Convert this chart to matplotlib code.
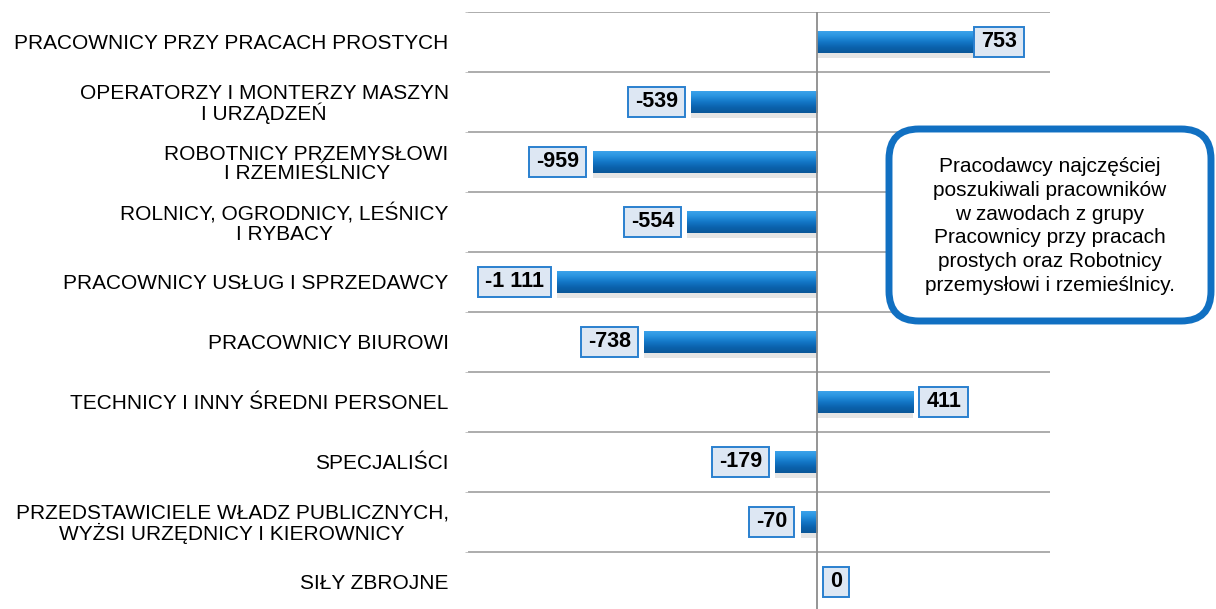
import numpy as np
import matplotlib
matplotlib.use("Agg")
from matplotlib import pyplot as plt
from matplotlib.patches import FancyBboxPatch, Rectangle
from matplotlib.transforms import IdentityTransform

plt.rcParams['font.family'] = ['Liberation Sans', 'DejaVu Sans']

categories = [
    "PRACOWNICY PRZY PRACACH PROSTYCH",
    "OPERATORZY I MONTERZY MASZYN\nI URZĄDZEŃ",
    "ROBOTNICY PRZEMYSŁOWI\nI RZEMIEŚLNICY",
    "ROLNICY, OGRODNICY, LEŚNICY\nI RYBACY",
    "PRACOWNICY USŁUG I SPRZEDAWCY",
    "PRACOWNICY BIUROWI",
    "TECHNICY I INNY ŚREDNI PERSONEL",
    "SPECJALIŚCI",
    "PRZEDSTAWICIELE WŁADZ PUBLICZNYCH,\nWYŻSI URZĘDNICY I KIEROWNICY",
    "SIŁY ZBROJNE",
]
values = [753, -539, -959, -554, -1111, -738, 411, -179, -70, 0]
value_labels = ["753", "-539", "-959", "-554", "-1 111", "-738", "411", "-179", "-70", "0"]

note = ("Pracodawcy najczęściej\nposzukiwali pracowników\nw zawodach z grupy\n"
        "Pracownicy przy pracach\nprostych oraz Robotnicy\nprzemysłowi i rzemieślnicy.")

fig = plt.figure(figsize=(12.16, 6.09), dpi=100)
ax = fig.add_axes([0.385, -0.0049, 0.4786, 0.9852])

y = np.arange(len(categories))
bar_h = 0.38

# shadow under the bars
ax.barh(y + 0.07, values, height=bar_h, color='#000000', alpha=0.10, zorder=2)
bars = ax.barh(y, values, height=bar_h, color='#1577c6', zorder=3)

# vertical gradient on each bar
grad = np.linspace(0, 1, 64).reshape(-1, 1)
cmap = matplotlib.colors.LinearSegmentedColormap.from_list(
    'bar', ['#3fa6ec', '#2a94e0', '#1478c8', '#0b62ad', '#0a5798'])
for b in bars:
    if b.get_width() == 0:
        continue
    x0, x1 = sorted([b.get_x(), b.get_x() + b.get_width()])
    im = ax.imshow(grad, cmap=cmap, aspect='auto', zorder=4,
                   extent=(x0, x1, b.get_y() + b.get_height(), b.get_y()))
    im.set_clip_path(b)

ax.set_xlim(-1491, 996)
ax.set_ylim(len(categories) - 0.5, -0.5)

labels = []
for yi, v, lab in zip(y, values, value_labels):
    if v < 0:
        t = ax.annotate(lab, (v, yi), xytext=(-9.5, 0), textcoords='offset points',
                        ha='right', va='center', fontsize=15.5, fontweight='bold', zorder=7)
    else:
        # keep the label inside the plot area
        t = ax.annotate(lab, (min(v, 646), yi), xytext=(9.5, 0), textcoords='offset points',
                        ha='left', va='center', fontsize=15.5, fontweight='bold', zorder=7)
    labels.append(t)

ax.set_yticks(y)
ax.set_yticklabels(categories, fontsize=15, multialignment='center', linespacing=0.98)
ax.tick_params(axis='y', length=0, pad=14)
ax.set_yticks(np.arange(-0.5, len(categories), 1), minor=True)
ax.tick_params(axis='y', which='minor', length=2, color='#bbbbbb')
ax.grid(axis='y', which='minor', color='#a6a6a6', lw=1.3)
ax.set_xticks([])
ax.axvline(0, color='#8c8c8c', lw=1.3, zorder=5)
for s in ax.spines.values():
    s.set_visible(False)

# boxes behind the value labels, sized from the rendered text
fig.canvas.draw()
for t in labels:
    bb = t.get_window_extent()
    cy = (bb.y0 + bb.y1) / 2
    ax.add_patch(Rectangle((bb.x0 - 7, cy - 15), bb.width + 14, 30,
                           transform=IdentityTransform(), fc='#dde7f3',
                           ec='#2a80cf', lw=1.4, zorder=6))

# callout box (pixel coordinates)
fig.patches.append(FancyBboxPatch((889, 609 - 321), 322, 192,
                                  boxstyle='round,pad=0,rounding_size=30',
                                  transform=IdentityTransform(), fc='white',
                                  ec='#1170c2', lw=5, zorder=10, figure=fig))
fig.text(1050 / 1216, 1 - 226 / 609, note, ha='center', va='center',
         fontsize=15, linespacing=1.33, zorder=11)

fig.savefig('out.png', dpi=100)
